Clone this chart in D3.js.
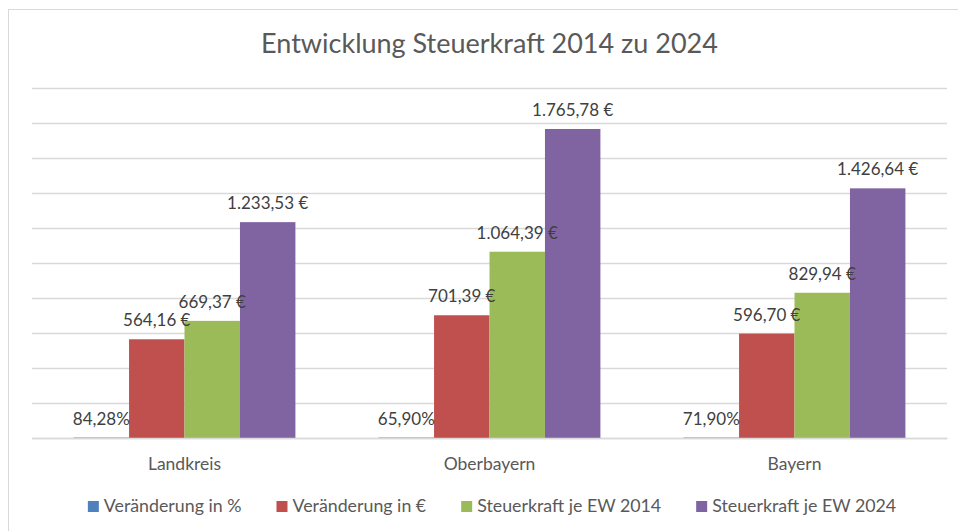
<!DOCTYPE html>
<html>
<head>
<meta charset="utf-8">
<script src="https://cdn.jsdelivr.net/npm/d3@7"></script>
<style>
    html, body { margin: 0; padding: 0; background: #ffffff; }
    svg { display: block; font-family: Lato, "Open Sans", sans-serif; }
</style>
</head>
<body>
<div id="chart"></div>
<script>
(function () {
    'use strict';

    var categories = ['Landkreis', 'Oberbayern', 'Bayern'];
    var seriesNames = ['Veränderung in %', 'Veränderung in €', 'Steuerkraft je EW 2014', 'Steuerkraft je EW 2024'];
    var changePercent = [0.8428, 0.6590, 0.7190];
    var changeEuro = [564.16, 701.39, 596.70];
    var taxPower2014 = [669.37, 1064.39, 829.94];
    var taxPower2024 = [1233.53, 1765.78, 1426.64];
    var yTicks = [0, 200, 400, 600, 800, 1000, 1200, 1400, 1600, 1800, 2000];

    var seriesColors = ['#4F81BD', '#C0504D', '#9BBB59', '#8064A2'];
    var textColor = '#595959';
    var gridColor = '#d9d9d9';

    var width = 958;
    var height = 531;
    var margin = { top: 88, right: 11, bottom: 93, left: 32 };
    var plotWidth = width - margin.left - margin.right;
    var plotHeight = height - margin.top - margin.bottom;

    var de = d3.formatLocale({
        decimal: ',',
        thousands: '.',
        grouping: [3],
        currency: ['', ' €'],
        percent: '%'
    });
    var formatEuro = de.format('$,.2f');
    var formatPercent = de.format('.2%');

    var seriesValues = [changePercent, changeEuro, taxPower2014, taxPower2024];
    var seriesFormats = [formatPercent, formatEuro, formatEuro, formatEuro];

    var svg = d3.select('#chart').append('svg')
        .attr('width', width)
        .attr('height', height);

    // chart frame (runs off the right and bottom edges)
    svg.append('rect')
        .attr('x', 8.5)
        .attr('y', 9.5)
        .attr('width', width + 20)
        .attr('height', height + 20)
        .attr('fill', 'none')
        .attr('stroke', gridColor)
        .attr('stroke-width', 1);

    svg.append('text')
        .attr('x', margin.left + plotWidth / 2)
        .attr('y', 53)
        .attr('text-anchor', 'middle')
        .attr('fill', textColor)
        .style('font-size', '27px')
        .text('Entwicklung Steuerkraft 2014 zu 2024');

    var g = svg.append('g')
        .attr('transform', 'translate(' + margin.left + ',' + margin.top + ')');

    var x = d3.scaleBand()
        .domain(categories)
        .range([0, plotWidth])
        .paddingInner(0)
        .paddingOuter(0);

    var xInner = d3.scaleBand()
        .domain(seriesNames)
        .range([0, x.bandwidth()])
        .paddingInner(0)
        .paddingOuter(0.75);

    var y = d3.scaleLinear()
        .domain([0, 2000])
        .range([plotHeight, 0]);

    var grid = g.append('g')
        .call(d3.axisLeft(y).tickValues(yTicks).tickSize(-plotWidth).tickFormat(''));
    grid.select('.domain').remove();
    grid.selectAll('.tick line')
        .attr('stroke', gridColor)
        .attr('stroke-width', 1.3);

    var rows = [];
    categories.forEach(function (cat, ci) {
        seriesNames.forEach(function (name, si) {
            rows.push({
                category: cat,
                series: name,
                value: seriesValues[si][ci],
                color: seriesColors[si],
                label: seriesFormats[si](seriesValues[si][ci])
            });
        });
    });

    var groups = g.selectAll('.group')
        .data(categories)
        .enter().append('g')
        .attr('class', 'group')
        .attr('transform', function (d) { return 'translate(' + x(d) + ',0)'; });

    // tiny bars (the % series) still get a 1px sliver, like the original
    groups.selectAll('rect')
        .data(function (cat) { return rows.filter(function (r) { return r.category === cat; }); })
        .enter().append('rect')
        .attr('x', function (d) { return xInner(d.series); })
        .attr('y', function (d) { return Math.min(y(d.value), y(0) - 1); })
        .attr('width', xInner.bandwidth())
        .attr('height', function (d) { return Math.max(y(0) - y(d.value), 1); })
        .attr('fill', function (d) { return d.color; })
        .attr('fill-opacity', function (d) { return y(0) - y(d.value) < 1 ? 0.45 : 1; });

    groups.selectAll('.label')
        .data(function (cat) { return rows.filter(function (r) { return r.category === cat; }); })
        .enter().append('text')
        .attr('class', 'label')
        .attr('x', function (d) { return xInner(d.series) + xInner.bandwidth() / 2; })
        .attr('y', function (d) { return y(d.value) - 13; })
        .attr('text-anchor', 'middle')
        .attr('fill', '#404040')
        .style('font-size', '17px')
        .text(function (d) { return d.label; });

    var xAxis = g.append('g')
        .attr('transform', 'translate(0,' + plotHeight + ')')
        .call(d3.axisBottom(x).tickSize(0).tickPadding(0));
    xAxis.select('.domain')
        .attr('stroke', gridColor)
        .attr('stroke-width', 1.3);
    xAxis.selectAll('.tick text')
        .attr('dy', null)
        .attr('y', 32)
        .attr('fill', textColor)
        .style('font-family', 'Lato, "Open Sans", sans-serif')
        .style('font-size', '17.5px');

    // legend
    var legend = svg.append('g');
    var items = legend.selectAll('.item')
        .data(seriesNames)
        .enter().append('g')
        .attr('class', 'item');

    items.append('rect')
        .attr('width', 11)
        .attr('height', 11)
        .attr('y', 501)
        .attr('fill', function (d, i) { return seriesColors[i]; });

    items.append('text')
        .attr('x', 16)
        .attr('y', 512)
        .attr('fill', textColor)
        .style('font-size', '17.8px')
        .text(function (d) { return d; });

    var offset = 0;
    var itemGap = 35;
    items.each(function () {
        var node = d3.select(this);
        node.attr('transform', 'translate(' + offset + ',0)');
        offset += 16 + node.select('text').node().getComputedTextLength() + itemGap;
    });
    var legendWidth = offset - itemGap;
    legend.attr('transform', 'translate(' + (492 - legendWidth / 2) + ',0)');
})();
</script>
</body>
</html>
